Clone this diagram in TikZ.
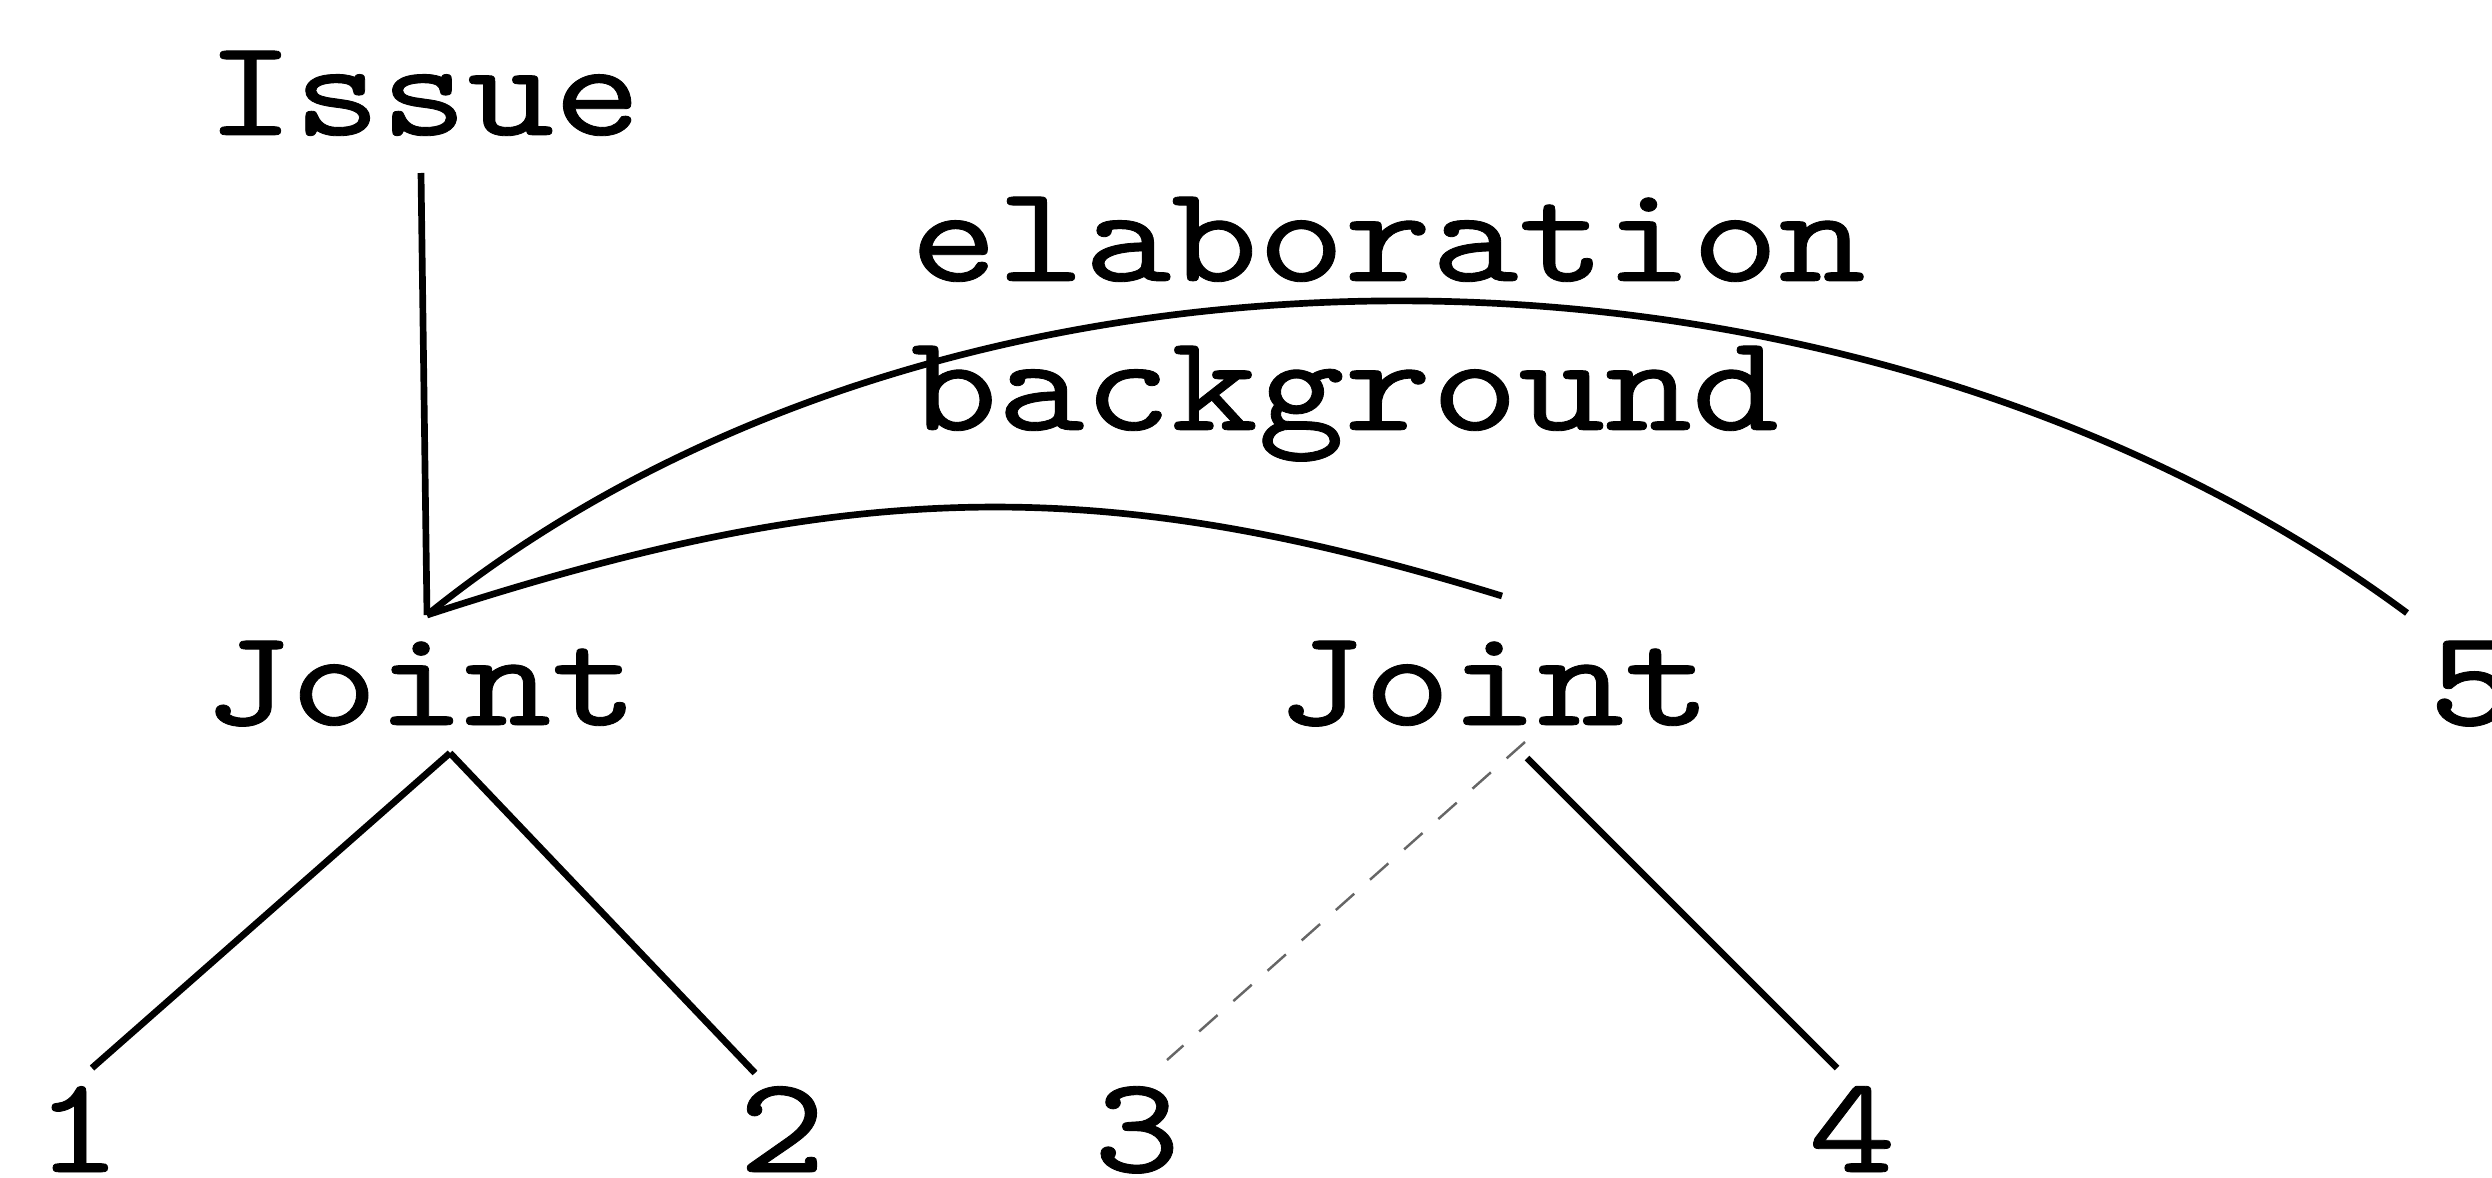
\documentclass[tikz,border=0pt]{standalone}
\usepackage{fontspec}
\newfontfamily\treefont[Extension=.otf,FakeStretch=1.2,FakeBold=0.6]{lmmono10-regular}
\usetikzlibrary{calc}
\definecolor{EdgeClr}{rgb}{0,0,0}
\definecolor{FaintClr}{rgb}{0.4,0.4,0.4}

\begin{document}
\begin{tikzpicture}[
  word/.style={inner sep=0pt,anchor=base,font=\treefont\fontsize{39.2}{46}\selectfont},
  edge/.style={line width=1.9pt,color=EdgeClr},
  faintedge/.style={line width=0.7pt,color=FaintClr,dash pattern=on 7pt off 6pt}]
\useasboundingbox (0,0) rectangle (24.92,11.77);

\node[word] (Issue) at (4.24,10.42) {Issue};
\node[word] (JointL) at (4.21,4.52) {Joint};
\node[word] (JointR) at (14.94,4.52) {Joint};
\node[word] (n5) at (24.72,4.52) {5};
\node[word] (n1) at (0.78,0.05) {1};
\node[word] (n2) at (7.82,0.05) {2};
\node[word] (n3) at (11.37,0.05) {3};
\node[word] (n4) at (18.52,0.05) {4};
\node[word,anchor=base west] (lblElab) at (9.10,8.96) {elaboration};
\node[word,anchor=base west] (lblBack) at (9.10,7.47) {background};

\coordinate (jlTop) at ($(JointL.base)+(0.06,1.10)$);

\draw[edge] ($(Issue.base)+(-0.03,-0.38)$) -- (jlTop);
\draw[edge] (jlTop) .. controls (9.5,9.85) and (18.5,9.76) .. ($(n5.base)+(-0.65,1.12)$);
\draw[edge] (jlTop) .. controls (8.5,7.0) and (11.0,7.05) .. ($(JointR.base)+(0.08,1.29)$);

\draw[edge] ($(JointL.base)+(0.29,-0.28)$) -- ($(n1.base)+(0.14,1.04)$);
\draw[edge] ($(JointL.base)+(0.29,-0.28)$) -- ($(n2.base)+(-0.27,0.99)$);
\draw[faintedge] ($(JointR.base)+(0.31,-0.17)$) -- ($(n3.base)+(0.30,1.12)$);
\draw[edge] ($(JointR.base)+(0.33,-0.33)$) -- ($(n4.base)+(-0.15,1.04)$);

\end{tikzpicture}
\end{document}
